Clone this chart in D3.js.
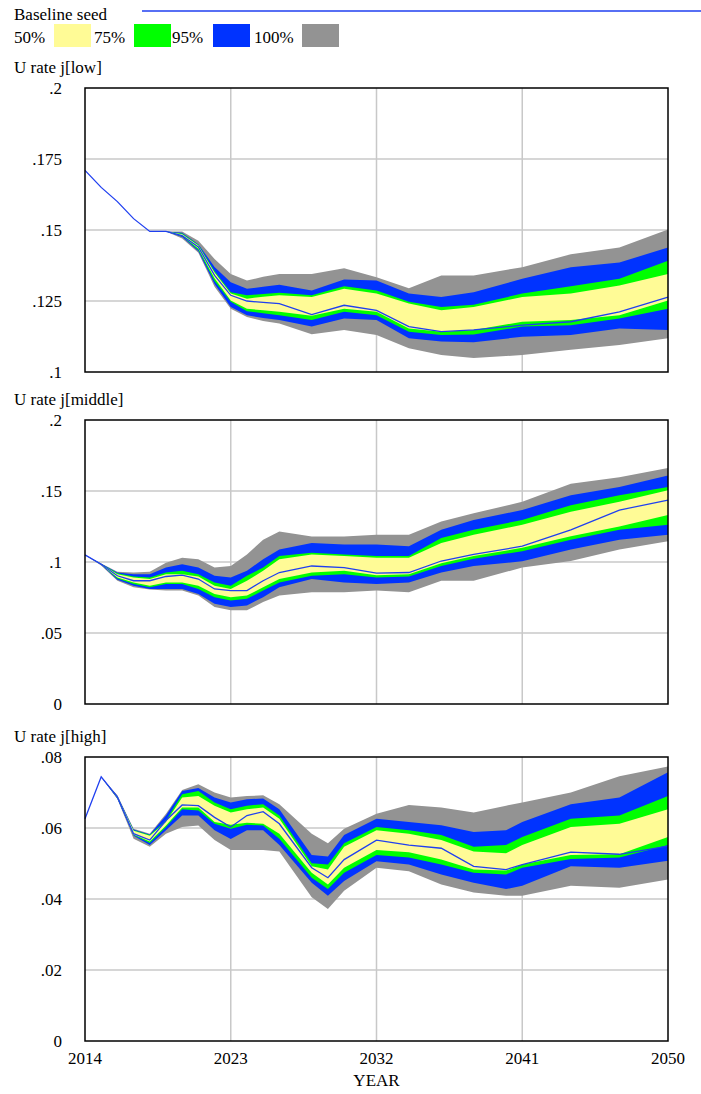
<!DOCTYPE html>
<html>
<head>
<meta charset="utf-8">
<script src="https://cdn.jsdelivr.net/npm/d3@7"></script>
<style>
  body { margin: 0; background: #fff; }
  svg text { font-family: "Liberation Serif", "DejaVu Serif", "Times New Roman", Times, serif; fill: #000; }
</style>
</head>
<body>
<svg id="chart" width="701" height="1094"></svg>
<script>
// Years sampled from the chart
const yearsA = [2014,2015,2016,2017,2018,2019,2020,2021,2022,2023,2024,2025,2026,2028,2030,2032,2034,2036,2038,2041,2044,2047,2050];
const yearsC = [2014,2015,2016,2017,2018,2019,2020,2021,2022,2023,2024,2025,2026,2028,2029,2030,2032,2034,2036,2038,2040,2041,2044,2047,2050];

// U rate j[low]
const lowGrayHi  = [.171,.165,.160,.154,.1495,.1495,.1495,.1462,.1398,.1345,.1322,.1335,.1345,.1345,.1365,.1334,.1295,.134,.134,.1369,.1415,.1438,.1502];
const lowBlueHi  = [.171,.165,.160,.154,.1495,.1495,.149,.145,.137,.1316,.1293,.130,.1307,.1287,.1326,.1322,.1276,.1264,.1281,.1328,.1369,.1386,.1438];
const lowGreenHi = [.171,.165,.160,.154,.1495,.1495,.1488,.1448,.1355,.1281,.127,.1275,.1279,.127,.1302,.1287,.1247,.1229,.1237,.1276,.1302,.1328,.1392];
const lowYelHi   = [.171,.165,.160,.154,.1495,.1495,.1485,.1445,.135,.1276,.1258,.1265,.127,.1264,.1293,.1276,.1241,.1217,.1229,.1264,.1276,.1305,.1345];
const lowBase    = [.171,.165,.160,.154,.1495,.1495,.148,.144,.134,.127,.125,.1245,.1241,.1202,.1235,.1217,.116,.1142,.1148,.1165,.1177,.1212,.1264];
const lowYelLo   = [.171,.165,.160,.154,.1495,.1495,.148,.1435,.133,.1252,.1223,.1217,.1212,.1198,.1223,.1212,.1153,.1142,.1148,.1177,.1183,.12,.1252];
const lowGreenLo = [.171,.165,.160,.154,.1495,.1495,.1478,.143,.132,.1247,.1214,.1207,.12,.1183,.1212,.12,.1142,.113,.1132,.116,.1165,.1188,.1223];
const lowBlueLo  = [.171,.165,.160,.154,.1495,.1495,.1475,.1425,.131,.1229,.12,.119,.1183,.116,.1188,.1183,.1119,.1107,.1105,.1124,.113,.1153,.1148];
const lowGrayLo  = [.171,.165,.160,.154,.1495,.1495,.147,.142,.130,.1223,.1194,.118,.1171,.1133,.1148,.113,.1084,.106,.1049,.106,.1078,.1095,.1119];

// U rate j[middle]
const midGrayHi  = [.105,.099,.0931,.0926,.0931,.0995,.103,.1019,.0961,.0972,.1053,.1157,.1215,.118,.118,.1192,.1192,.1285,.1343,.1424,.1551,.1597,.1662];
const midBlueHi  = [.105,.0987,.0926,.0914,.0914,.0961,.0984,.0961,.0903,.0891,.0938,.1019,.1088,.1134,.1123,.1123,.1111,.1227,.1296,.1366,.147,.1528,.1609];
const midGreenHi = [.105,.0986,.0921,.0898,.0891,.0926,.0938,.0914,.0856,.0833,.0903,.0961,.1042,.1065,.1053,.1042,.1042,.1169,.1227,.1296,.14,.147,.1528];
const midYelHi   = [.105,.0985,.0914,.0891,.088,.0914,.0914,.0898,.0833,.081,.0868,.0938,.1019,.1053,.1042,.103,.103,.1134,.1192,.1262,.1354,.1424,.1505];
const midBase    = [.105,.0984,.0903,.0868,.0868,.0898,.0907,.088,.081,.0799,.0799,.0868,.0926,.0972,.0961,.0921,.0926,.1007,.1053,.1111,.1227,.1366,.1435];
const midYelLo   = [.105,.0983,.0891,.0856,.0833,.0856,.0856,.0833,.0775,.0752,.0764,.0822,.088,.0926,.0938,.0907,.0914,.0991,.1042,.11,.1181,.125,.1331];
const midGreenLo = [.105,.0982,.0884,.0845,.0822,.0845,.0845,.081,.0752,.0729,.0741,.0799,.0856,.0903,.0914,.0891,.0898,.0972,.1023,.1076,.1157,.1227,.1262];
const midBlueLo  = [.105,.0981,.0875,.0833,.081,.081,.081,.0775,.0706,.0683,.0694,.0752,.0822,.088,.0856,.0845,.0856,.0926,.0972,.1005,.1088,.1157,.1192];
const midGrayLo  = [.105,.0975,.0868,.0822,.0806,.0799,.0799,.0764,.0683,.066,.066,.0718,.0764,.0787,.0787,.0799,.0787,.0868,.0868,.0961,.1007,.1088,.1146];

// U rate j[high]
const highGrayHi  = [.0626,.0744,.0692,.0598,.0584,.0640,.0707,.0723,.0700,.0686,.0690,.0692,.0667,.0584,.0557,.0598,.0640,.0665,.0658,.0644,.0663,.0672,.0700,.0746,.0773];
const highBlueHi  = [.0626,.0744,.0690,.0596,.0582,.0635,.0704,.0713,.0686,.0672,.0681,.0683,.0653,.0524,.0520,.0580,.0626,.0617,.0608,.0589,.0594,.0617,.0667,.0686,.0757];
const highGreenHi = [.0626,.0744,.0689,.0594,.0580,.0621,.0695,.0704,.0672,.0653,.0663,.0667,.0635,.0501,.0497,.0557,.0603,.0594,.0580,.0547,.0552,.0575,.0626,.0635,.0690];
const highYelHi   = [.0626,.0744,.0688,.0592,.0578,.0617,.0686,.0690,.0663,.0644,.0653,.0658,.0626,.0492,.0483,.0547,.0594,.0584,.0566,.0534,.0529,.0552,.0603,.0612,.0653];
const highBase    = [.0626,.0744,.0687,.0584,.0566,.0621,.0665,.0663,.0630,.0603,.0635,.0646,.0612,.0488,.0460,.0511,.0566,.0552,.0543,.0492,.0483,.0497,.0532,.0526,.0549];
const highYelLo   = [.0626,.0744,.0685,.0582,.0562,.0607,.0658,.0658,.0617,.0609,.0615,.0612,.0584,.0474,.0441,.0488,.0538,.0532,.0511,.0483,.0480,.0497,.0524,.0526,.0575];
const highGreenLo = [.0626,.0744,.0684,.0580,.0558,.0603,.0653,.0649,.0612,.0598,.0609,.0607,.0570,.0460,.0428,.0474,.0524,.0517,.0497,.0474,.0469,.0488,.0513,.0517,.0552];
const highBlueLo  = [.0626,.0744,.0683,.0578,.0552,.0594,.0635,.0635,.0594,.0569,.0594,.0594,.0552,.0446,.0409,.0451,.0506,.0497,.0469,.0446,.0428,.0437,.0492,.0488,.0508];
const highGrayLo  = [.0626,.0744,.0682,.0570,.0547,.0584,.0603,.0607,.0566,.0538,.0538,.0538,.0534,.0405,.0372,.0423,.0488,.0478,.0441,.0418,.0409,.0409,.0437,.0432,.0455];

const xTicks = [2014, 2023, 2032, 2041, 2050];
const legendLabels = ['50%', '75%', '95%', '100%'];
const bandColors = ['#fffb96', '#00ff00', '#0033ff', '#939393'];
const baseColor = '#1f3ff0';

const panels = [
  { title: 'U rate j[low]', top: 88, years: yearsA, domain: [.1, .2], ticks: [.1, .125, .15, .175, .2],
    bands: [[lowGrayLo, lowGrayHi], [lowBlueLo, lowBlueHi], [lowGreenLo, lowGreenHi], [lowYelLo, lowYelHi]], base: lowBase },
  { title: 'U rate j[middle]', top: 420, years: yearsA, domain: [0, .2], ticks: [0, .05, .1, .15, .2],
    bands: [[midGrayLo, midGrayHi], [midBlueLo, midBlueHi], [midGreenLo, midGreenHi], [midYelLo, midYelHi]], base: midBase },
  { title: 'U rate j[high]', top: 757, years: yearsC, domain: [0, .08], ticks: [0, .02, .04, .06, .08],
    bands: [[highGrayLo, highGrayHi], [highBlueLo, highBlueHi], [highGreenLo, highGreenHi], [highYelLo, highYelHi]], base: highBase }
];

const svg = d3.select('#chart');
const left = 85, right = 668, ph = 284, fs = 17;
const x = d3.scaleLinear().domain([2014, 2050]).range([left, right]);
const fmt = v => v === 0 ? '0' : String(+v.toFixed(3)).replace(/^0/, '');

// Legend
svg.append('text').attr('x', 14).attr('y', 20).attr('font-size', fs).text('Baseline seed');
svg.append('line').attr('x1', 142).attr('x2', 701).attr('y1', 11).attr('y2', 11)
  .attr('stroke', baseColor).attr('stroke-width', 1.5);
const legX = [14, 94, 172, 254];
const swX = [54, 134, 213, 302];
legendLabels.forEach((l, i) => {
  svg.append('text').attr('x', legX[i]).attr('y', 43).attr('font-size', fs).text(l);
  svg.append('rect').attr('x', swX[i]).attr('y', 24).attr('width', 37).attr('height', 23)
    .attr('fill', bandColors[i]);
});

panels.forEach(p => {
  const y = d3.scaleLinear().domain(p.domain).range([p.top + ph, p.top]);
  const g = svg.append('g');
  g.append('text').attr('x', 14).attr('y', p.top - 15).attr('font-size', fs).text(p.title);

  // grid
  g.selectAll('.gx').data(xTicks.slice(1, -1)).enter().append('line')
    .attr('x1', d => x(d)).attr('x2', d => x(d)).attr('y1', p.top).attr('y2', p.top + ph)
    .attr('stroke', '#c8c8c8').attr('stroke-width', 1.5);
  g.selectAll('.gy').data(p.ticks.slice(1, -1)).enter().append('line')
    .attr('x1', left).attr('x2', right).attr('y1', d => y(d)).attr('y2', d => y(d))
    .attr('stroke', '#c8c8c8').attr('stroke-width', 1.5);

  // bands, outermost first
  const colorOrder = [bandColors[3], bandColors[2], bandColors[1], bandColors[0]];
  p.bands.forEach((b, i) => {
    const area = d3.area().x((d, j) => x(p.years[j])).y0((d, j) => y(b[0][j])).y1((d, j) => y(b[1][j]));
    g.append('path').datum(p.years).attr('d', area).attr('fill', colorOrder[i]);
  });
  const line = d3.line().x((d, j) => x(p.years[j])).y(d => y(d));
  g.append('path').datum(p.base).attr('d', line).attr('fill', 'none')
    .attr('stroke', baseColor).attr('stroke-width', 1.3);

  // frame
  g.append('rect').attr('x', left).attr('y', p.top).attr('width', right - left).attr('height', ph)
    .attr('fill', 'none').attr('stroke', '#000').attr('stroke-width', 1.5);

  // y labels
  g.selectAll('.yl').data(p.ticks).enter().append('text')
    .attr('x', 62).attr('y', d => y(d) + 6).attr('text-anchor', 'end').attr('font-size', fs)
    .text(fmt);
});

// x axis labels under the last panel
const bottom = panels[2].top + ph;
svg.selectAll('.xl').data(xTicks).enter().append('text')
  .attr('x', d => x(d)).attr('y', bottom + 23).attr('text-anchor', 'middle').attr('font-size', fs)
  .text(d => d);
svg.append('text').attr('x', (left + right) / 2).attr('y', bottom + 45).attr('text-anchor', 'middle')
  .attr('font-size', fs).text('YEAR');
</script>
</body>
</html>
